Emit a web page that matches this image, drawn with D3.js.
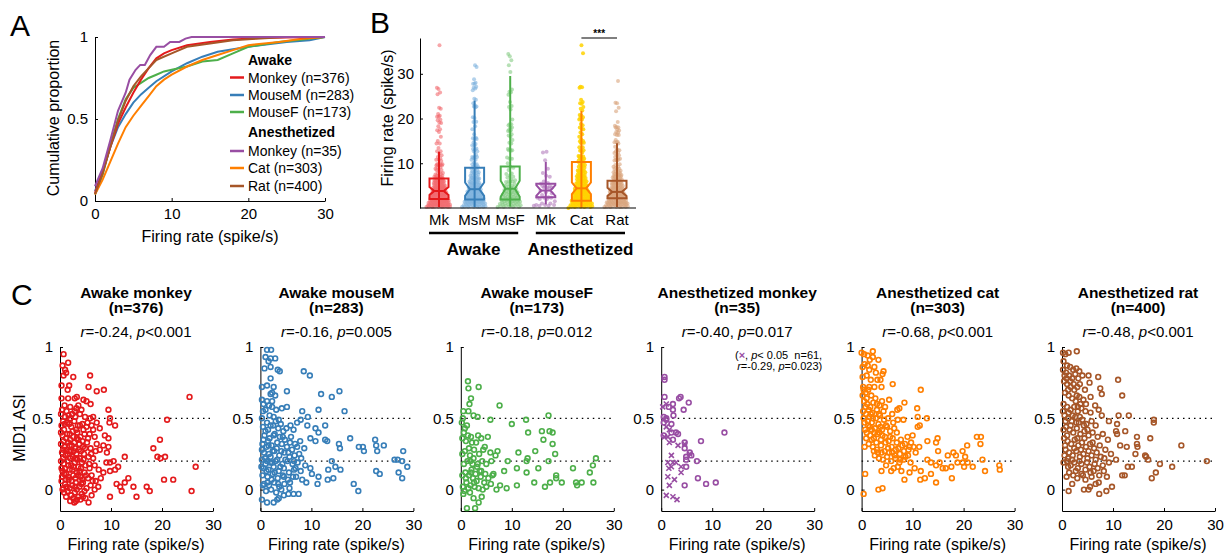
<!DOCTYPE html>
<html><head><meta charset="utf-8">
<script src="https://cdn.jsdelivr.net/npm/d3@7"></script>
<style>body{margin:0;background:#fff} svg text{font-family:"Liberation Sans",Arial,Helvetica,sans-serif}</style>
</head><body><svg id="c" width="1227" height="558"></svg>
<script>
// ================= DATA =================
// Panel A: empirical CDFs [rate, cumulative proportion]
const cdfAwakeMonkey = [[0,0.05],[1,0.18],[2,0.33],[3,0.47],[4,0.57],[5,0.66],[6,0.74],[7,0.81],[8,0.87],[9,0.9],[10,0.92],[12,0.95],[15,0.97],[18,0.985],[22,0.995],[30,1]];
const cdfAwakeMouseM = [[0,0.06],[1,0.18],[2,0.33],[3,0.45],[4,0.53],[5,0.6],[6,0.65],[7,0.69],[8,0.73],[10,0.79],[12,0.84],[14,0.88],[16,0.91],[20,0.94],[25,0.97],[28,0.98],[30,1]];
const cdfAwakeMouseF = [[0,0.04],[1,0.16],[2,0.34],[3,0.5],[4,0.62],[5,0.69],[6,0.72],[7,0.75],[8,0.77],[9,0.79],[10,0.8],[12,0.82],[14,0.85],[16,0.86],[18,0.9],[20,0.94],[24,0.97],[28,0.99],[30,1]];
const cdfAnesMonkey = [[0,0.09],[1,0.2],[2,0.37],[3,0.55],[4,0.66],[4.5,0.74],[5.3,0.8],[5.9,0.83],[6.5,0.83],[7.2,0.89],[8,0.94],[9,0.94],[9.8,0.97],[11,0.97],[11.8,0.99],[12.6,1],[30,1]];
const cdfAnesCat = [[0,0.04],[1,0.13],[2,0.24],[3,0.35],[4,0.45],[5,0.52],[6,0.58],[7,0.64],[8,0.7],[9,0.74],[10,0.77],[12,0.82],[14,0.86],[16,0.89],[18,0.92],[20,0.95],[24,0.97],[27,0.99],[30,1]];
const cdfAnesRat = [[0,0.04],[1,0.17],[2,0.33],[3,0.49],[4,0.61],[5,0.7],[6,0.76],[7,0.81],[8,0.86],[10,0.9],[12,0.94],[15,0.96],[18,0.98],[21,0.99],[25,1],[30,1]];
const legendAwake = ["Monkey (n=376)","MouseM (n=283)","MouseF (n=173)"];
const legendAnes = ["Monkey (n=35)","Cat (n=303)","Rat (n=400)"];
const axisTicksRate = [0,10,20,30];
const axisTicksProp = [0,0.5,1];

// Panel B: box statistics (spike/s)
const bCategories = ["Mk","MsM","MsF","Mk","Cat","Rat"];
const bQ1 = [2.0,1.9,1.9,2.4,1.6,2.2];
const bMedian = [3.8,4.2,4.3,3.9,4.4,3.6];
const bQ3 = [6.6,9.0,9.3,5.4,10.3,6.1];
const bNotch = [0.9,1.5,1.8,1.2,1.3,0.9];
const bWhiskerLo = [0.2,0.2,0.3,0.8,0.1,0.2];
const bWhiskerHi = [12.6,24.0,29.5,10.3,21.7,14.5];
const bExtraHigh = [[36.4,26.9,22.4,20.4,19.0,17.4,15.9,14.4],[31.9,31.5,26.7,24.4],[34.4,33.9,33.0,31.9,30.4],[12.6],[36.4,34.6,26.9,22.2],[23.5,22.4,18.1,17.0,16.3,15.2]];
const bTicks = [10,20,30];
const bGroupLabels = ["Awake","Anesthetized"];

// Panel C: [firing rate, MID1 ASI]
const awakeMonkeyPts = [[0.7,0.95],[1.6,0.89],[0.5,0.87],[1.0,0.84],[0.7,0.80],[1.2,0.82],[2.6,0.79],[1.8,0.73],[0.3,0.73],[1.5,0.70],[5.9,0.80],[5.6,0.72],[7.2,0.69],[8.6,0.70],
[0.3,0.64],[1.6,0.64],[2.9,0.64],[3.3,0.65],[4.6,0.63],[5.2,0.62],[6.0,0.60],[0.9,0.59],[2.0,0.58],[3.2,0.57],[4.2,0.56],
[0.2,0.53],[1.0,0.51],[2.0,0.50],[3.9,0.53],[4.9,0.51],[5.9,0.50],[6.5,0.51],[9.5,0.56],[9.8,0.50],[10.8,0.45],[9.7,0.47],[7.2,0.47],
[7.8,0.43],[6.5,0.42],[8.8,0.38],[9.5,0.36],[8.5,0.31],[7.2,0.32],[7.8,0.28],[9.5,0.30],[9.2,0.26],
[12.7,0.23],[10.5,0.20],[9.8,0.19],[9.1,0.19],[11.4,0.16],[10.8,0.14],[9.8,0.13],[8.5,0.12],
[13.4,0.08],[12.7,0.05],[11.8,0.02],[11.1,0.04],[12.1,-0.01],[14.4,0.02],[15.0,-0.05],[9.8,-0.05],[17.0,0.02],[17.6,-0.01],
[18.3,0.29],[19.6,0.35],[19.1,0.23],[19.7,0.22],[20.6,0.23],[20.4,0.07],[22.2,0.07],[21.0,0.49],[25.4,0.65],[25.8,-0.01],[26.6,0.16],
[5.6,-0.09],[3.1,-0.08],
[0.3,0.45],[0.8,0.42],[1.4,0.47],[2.2,0.44],[2.8,0.48],[3.5,0.45],[4.4,0.46],[5.2,0.44],[6.2,0.45],[0.5,0.38],[1.2,0.36],[1.9,0.39],[2.6,0.37],[3.4,0.40],[4.0,0.37],[4.8,0.39],[5.5,0.36],[6.8,0.37],
[0.2,0.32],[0.9,0.30],[1.6,0.33],[2.3,0.31],[3.0,0.29],[3.8,0.32],[4.5,0.30],[5.3,0.33],[6.0,0.29],[7.0,0.27],
[0.4,0.26],[1.1,0.24],[1.8,0.27],[2.5,0.23],[3.2,0.25],[3.9,0.22],[4.7,0.25],[5.6,0.23],[6.5,0.22],
[0.2,0.20],[0.8,0.18],[1.5,0.20],[2.2,0.17],[2.9,0.19],[3.6,0.16],[4.3,0.19],[5.0,0.17],[5.8,0.15],[6.8,0.17],[7.6,0.14],
[0.5,0.13],[1.2,0.11],[1.9,0.14],[2.6,0.10],[3.3,0.12],[4.0,0.09],[4.8,0.12],[5.5,0.08],[6.2,0.10],[7.0,0.06],[8.0,0.08],
[0.3,0.06],[1.0,0.04],[1.7,0.07],[2.4,0.03],[3.1,0.05],[3.8,0.02],[4.5,0.05],[5.2,0.01],[6.0,0.03],[6.8,0.00],[7.5,0.02],
[0.8,-0.02],[1.5,-0.01],[2.2,-0.04],[2.9,-0.02],[3.6,-0.05],[4.3,-0.03],[5.0,-0.06],[6.2,-0.04],[3.3,-0.07],[2.6,-0.06],
[0.4,0.56],[1.3,0.55],[2.4,0.53],[3.0,0.51],[0.6,0.48],[1.8,0.46],[3.2,0.42],[4.6,0.42],[0.7,0.34],[2.0,0.35],[3.6,0.35],[1.3,0.28],[2.7,0.27],[4.1,0.27],[0.6,0.22],[2.0,0.22],[3.4,0.21],[1.0,0.15],[2.4,0.14],[3.8,0.13],[0.4,0.09],[1.6,0.09],[3.0,0.08],[4.4,0.07],[0.6,0.01],[1.9,0.01],[3.3,0.00],[4.8,-0.01],[1.2,-0.05],[4.0,-0.07],
[0.2,0.40],[0.6,0.28],[0.9,0.46],[1.1,0.07],[1.4,0.39],[1.6,0.17],[1.7,0.52],[2.1,0.27],[2.3,0.06],[2.5,0.41],[2.7,0.16],[2.8,0.33],[3.0,0.02],[3.1,0.22],[3.3,0.36],[3.5,0.10],[3.7,0.28],[3.9,0.45],[4.1,0.15],[4.2,0.04],[4.4,0.34],[4.6,0.21],[4.9,0.29],[5.1,0.10],[5.4,0.47],[5.7,0.18],[6.1,0.25],[6.4,0.06],[0.3,0.15],[0.5,0.00],[1.3,0.02],[1.9,0.31],[2.9,0.55],[3.6,0.59],[0.8,0.11],[1.5,0.25],[2.0,-0.08],[2.8,-0.09],[4.5,-0.05],[5.8,0.39]];

const awakeMouseMPts = [[1.3,0.98],[2.1,0.98],[1.0,0.93],[2.0,0.92],[1.6,0.90],[2.9,0.92],[2.0,0.86],[0.8,0.85],[3.4,0.84],[3.8,0.83],[2.0,0.78],[1.3,0.73],[0.3,0.72],[2.6,0.72],[2.9,0.66],[2.0,0.67],[0.3,0.63],[1.3,0.62],[2.3,0.62],[1.0,0.56],[2.3,0.58],[2.6,0.51],[0.3,0.50],[1.3,0.47],
[4.2,0.57],[5.2,0.58],[5.2,0.69],[8.5,0.83],[9.7,0.80],[11.9,0.67],[14.0,0.65],[15.5,0.69],[11.4,0.56],[16.5,0.55],[8.2,0.55],[9.3,0.51],[7.9,0.49],[5.9,0.45],[7.2,0.47],[9.2,0.45],[12.7,0.45],[10.8,0.43],[6.5,0.42],
[11.4,0.40],[9.8,0.36],[10.8,0.34],[12.7,0.35],[13.1,0.34],[15.4,0.32],[15.6,0.29],[17.6,0.36],[19.3,0.30],[20.1,0.30],[20.3,0.27],[22.5,0.35],[22.7,0.31],[24.2,0.31],[22.9,0.27],[28.0,0.27],
[26.3,0.21],[26.9,0.21],[27.8,0.20],[28.8,0.16],[27.1,0.12],[27.8,0.08],[22.7,0.13],[23.4,0.11],[18.3,0.04],[19.2,-0.01],[14.0,0.20],[14.7,0.16],[13.3,0.14],[15.7,0.14],[14.3,0.08],[13.2,0.07],[11.4,0.09],[11.2,0.04],[9.8,0.15],[10.1,0.11],[9.0,0.05],[7.9,0.13],[6.9,0.15],
[5.5,-0.03],[4.6,-0.04],[3.6,-0.06],[3.3,-0.07],[2.6,-0.09],[1.3,-0.09],[0.3,-0.07],[7.5,-0.03],[6.5,-0.03],
[0.5,0.44],[1.5,0.42],[2.5,0.45],[3.5,0.43],[4.5,0.41],[0.8,0.38],[1.8,0.36],[2.8,0.39],[3.8,0.37],[4.8,0.35],[5.8,0.33],[6.8,0.32],[7.8,0.34],[0.4,0.32],[1.2,0.30],[2.2,0.31],[3.2,0.29],[4.2,0.32],[5.2,0.30],[6.2,0.28],[7.2,0.30],[8.6,0.29],[0.7,0.26],[1.7,0.25],[2.7,0.27],[3.7,0.24],[4.7,0.26],[5.7,0.23],[6.7,0.24],[8.0,0.22],[0.3,0.21],[1.3,0.20],[2.3,0.19],[3.3,0.21],[4.3,0.18],[5.3,0.20],[6.3,0.18],[7.3,0.19],[8.8,0.17],[0.6,0.15],[1.6,0.14],[2.6,0.16],[3.6,0.13],[4.6,0.15],[5.6,0.12],[6.6,0.14],[0.4,0.10],[1.4,0.09],[2.4,0.11],[3.4,0.08],[4.4,0.10],[5.4,0.07],[6.4,0.09],[0.7,0.04],[1.7,0.03],[2.7,0.05],[3.7,0.02],[4.7,0.04],[5.7,0.01],[1.1,-0.01],[2.1,0.00],[3.1,-0.02],[4.1,0.00],[0.5,0.55],[1.8,0.52],[3.0,0.48],[4.0,0.46],[1.0,0.18],[2.0,0.23],[1.5,0.34],
[0.3,0.28],[0.6,0.35],[0.9,0.22],[1.0,0.41],[1.2,0.13],[1.4,0.05],[1.6,0.31],[1.9,0.19],[2.0,0.45],[2.2,0.07],[2.4,0.27],[2.6,0.38],[2.8,0.12],[3.0,0.20],[3.3,0.33],[3.5,0.04],[3.6,0.49],[3.9,0.16],[4.1,0.27],[4.4,0.37],[4.6,0.09],[4.9,0.21],[5.1,0.43],[5.5,0.26],[5.8,0.05],[6.0,0.37],[6.6,0.20],[7.0,0.09],[7.6,0.25],[8.2,0.07],[0.2,0.16],[0.5,0.03],[1.7,0.59],[2.3,0.68],[0.6,0.60],[3.1,0.56]];

const awakeMouseFPts = [[1.4,0.76],[1.5,0.71],[3.5,0.72],[2.0,0.64],[1.7,0.60],[0.5,0.55],[1.5,0.55],[2.5,0.52],[3.3,0.51],[0.4,0.50],[0.2,0.47],[1.2,0.45],[5.8,0.49],[7.6,0.59],[0.6,0.40],[1.4,0.38],[0.3,0.36],[1.0,0.34],[2.0,0.37],
[10.0,0.46],[12.8,0.49],[17.2,0.52],[13.2,0.40],[15.9,0.41],[17.4,0.41],[18.0,0.40],[16.2,0.35],[14.6,0.27],[18.0,0.32],[18.5,0.25],[11.3,0.26],[9.2,0.20],[12.9,0.20],[13.1,0.22],[17.2,0.20],[22.0,0.15],[25.9,0.17],[26.5,0.22],[25.3,0.12],
[8.5,0.13],[11.0,0.15],[12.9,0.12],[15.2,0.15],[18.7,0.10],[18.7,0.08],[19.8,0.05],[17.5,0.05],[16.5,0.02],[14.4,0.05],[11.0,0.03],[9.0,0.01],[7.7,0.03],[7.0,0.00],[22.6,0.05],[23.7,0.05],[22.8,0.03],[26.0,0.05],
[1.8,-0.02],[2.5,-0.06],[1.2,-0.13],[2.8,-0.13],[3.5,-0.09],[4.1,-0.05],[0.5,-0.03],
[3.0,0.33],[4.0,0.36],[4.7,0.30],[5.3,0.37],[2.6,0.28],[3.6,0.25],[1.8,0.24],[0.8,0.27],[1.3,0.20],[2.3,0.18],[3.2,0.16],[4.2,0.20],[5.0,0.18],[6.0,0.20],[6.8,0.24],[7.2,0.27],[0.6,0.18],[0.9,0.12],[1.6,0.10],[2.4,0.08],[3.1,0.06],[3.9,0.09],[4.6,0.05],[5.4,0.08],[6.2,0.10],[6.4,0.11],[1.1,0.05],[1.9,0.03],[2.7,0.02],[3.5,0.01],[4.3,0.00],[5.0,0.02],[5.9,0.04],[0.4,0.02],[2.1,0.14],[2.9,0.11],[3.7,0.13],[0.3,0.25],[4.4,0.28],[5.8,0.26],
[0.8,0.43],[1.6,0.29],[2.2,0.33],[2.5,0.22],[3.4,0.38],[1.0,0.08],[1.5,0.01],[2.0,0.12],[2.6,0.05],[3.3,0.18],[4.0,0.13],[4.8,0.11],[0.3,0.10],[0.7,-0.01],[1.9,0.20]];

const anesMonkeyPts = [[0.65,0.79],[0.65,0.77],[0.65,0.65],[3.5,0.64],[3.8,0.65],[5.4,0.61],[2.3,0.60],[2.3,0.56],[4.4,0.56],[2.4,0.52],[0.5,0.51],[1.0,0.49],[0.5,0.47],[2.0,0.46],[0.5,0.38],[2.0,0.40],[2.9,0.40],[2.3,0.35],[4.6,0.33],[4.6,0.29],[7.8,0.34],[12.4,0.40],[5.6,0.26],[4.9,0.23],[5.9,0.24],[7.0,0.20],[4.9,0.21],[4.9,0.16],[7.2,0.08],[4.6,0.03],[8.8,0.04],[10.7,0.05],[1.5,0.58],[3.3,0.39],[1.0,0.50]];
const anesMonkeyCross = [[0.3,0.58],[1.0,0.60],[1.0,0.44],[1.6,0.42],[1.3,0.37],[1.6,0.33],[3.3,0.31],[4.6,0.32],[2.0,0.24],[1.3,0.19],[2.3,0.19],[2.9,0.19],[1.5,0.15],[2.0,0.16],[3.9,0.16],[3.9,0.12],[1.3,0.09],[2.6,0.07],[1.6,0.03],[1.0,-0.04],[2.3,-0.05],[3.1,-0.07],[0.65,0.37],[5.6,0.25]];

const anesCatPts = [[0.0,0.96],[0.5,0.95],[1.2,0.94],[2.2,0.97],[2.2,0.93],[3.3,0.91],[2.5,0.86],[0.2,0.86],[1.2,0.87],[1.5,0.84],[4.3,0.83],[4.1,0.81],[0.2,0.79],[1.8,0.77],[3.1,0.77],[3.7,0.77],[6.1,0.74],[3.9,0.72],[2.5,0.72],
[11.6,0.70],[8.4,0.61],[5.4,0.63],[3.5,0.59],[3.0,0.56],[7.4,0.57],[7.0,0.56],[10.9,0.57],[11.0,0.51],[12.8,0.50],[11.0,0.44],[11.4,0.45],[8.2,0.49],[7.1,0.49],[6.0,0.53],
[9.0,0.37],[9.7,0.33],[9.4,0.30],[11.3,0.30],[10.0,0.38],[12.9,0.34],[14.6,0.33],[14.9,0.36],[15.0,0.27],[16.9,0.24],[18.0,0.26],[18.5,0.24],[19.8,0.27],[20.7,0.31],[22.6,0.37],[23.4,0.37],[23.3,0.32],
[12.9,0.21],[13.6,0.19],[14.6,0.17],[15.3,0.19],[15.9,0.15],[16.5,0.15],[17.6,0.16],[18.8,0.19],[19.8,0.19],[20.3,0.23],[20.8,0.19],[21.8,0.16],[23.7,0.21],[24.2,0.13],[27.0,0.17],[27.1,0.14],[20.1,0.16],
[11.6,0.13],[11.5,0.07],[12.4,0.08],[13.6,0.11],[14.6,0.05],[17.7,0.08],[8.4,0.07],[10.4,0.15],[9.4,0.12],[7.1,0.16],[5.8,0.13],[3.9,0.13],[0.7,0.11],[3.3,0.00],[4.1,0.01],[0.4,-0.03],
[0.3,0.72],[0.8,0.68],[1.3,0.70],[1.9,0.66],[2.7,0.64],[0.5,0.62],[1.1,0.60],[1.7,0.58],[2.3,0.61],[4.0,0.62],[4.6,0.58],[0.3,0.55],[0.9,0.53],[1.5,0.51],[2.1,0.54],[2.8,0.50],[3.6,0.52],[4.4,0.49],[5.2,0.50],[0.6,0.47],[1.3,0.45],[2.0,0.47],[2.6,0.43],[3.3,0.46],[4.0,0.42],[4.8,0.45],[5.6,0.41],[6.4,0.43],[1.0,0.40],[1.7,0.38],[2.4,0.36],[3.1,0.39],[3.8,0.35],[4.6,0.37],[5.3,0.34],[6.1,0.36],[6.9,0.33],[7.7,0.35],[8.5,0.32],[1.4,0.32],[2.2,0.30],[3.0,0.28],[3.8,0.31],[4.5,0.27],[5.2,0.29],[6.0,0.26],[6.7,0.28],[7.5,0.25],[8.3,0.27],[9.1,0.24],[2.6,0.24],[3.4,0.22],[4.2,0.21],[5.0,0.23],[5.8,0.20],[6.6,0.22],[7.4,0.19],[8.2,0.21],[9.6,0.19],[4.8,0.17],[6.3,0.15],[7.8,0.13],[0.6,0.30],[0.9,0.36],[2.0,0.42],[3.5,0.40],[10.2,0.30],[10.6,0.26],
[0.2,0.66],[0.4,0.50],[0.7,0.42],[0.8,0.58],[1.0,0.64],[1.2,0.48],[1.4,0.56],[1.6,0.44],[1.8,0.53],[2.0,0.35],[2.2,0.50],[2.4,0.27],[2.5,0.40],[2.9,0.33],[3.0,0.60],[3.2,0.26],[3.4,0.53],[3.7,0.44],[3.9,0.26],[4.1,0.38],[4.3,0.55],[4.7,0.33],[5.0,0.44],[5.4,0.26],[5.6,0.37],[5.9,0.30],[6.2,0.47],[6.5,0.24],[6.9,0.40],[7.2,0.29],[7.6,0.21],[8.0,0.31],[8.6,0.23],[9.2,0.28],[1.0,0.80],[0.6,0.88],[1.6,0.91],[2.8,0.82],[0.4,0.70],[1.5,0.72]];

const anesRatPts = [[0.2,0.96],[0.65,0.95],[1.3,0.96],[2.9,0.97],[1.0,0.87],[1.6,0.86],[2.2,0.84],[2.8,0.85],[3.4,0.83],[5.2,0.80],[7.1,0.79],[11.0,0.77],[7.5,0.71],[5.4,0.75],[3.5,0.74],[5.6,0.65],[11.8,0.66],[7.8,0.67],
[6.5,0.59],[7.2,0.56],[7.8,0.52],[5.6,0.54],[9.2,0.48],[11.1,0.52],[13.1,0.52],[18.0,0.49],[18.0,0.47],[10.8,0.46],[10.6,0.41],[12.4,0.41],[10.8,0.39],
[14.7,0.37],[14.7,0.32],[14.8,0.30],[17.3,0.36],[23.4,0.31],[11.4,0.31],[12.7,0.30],[14.4,0.25],[16.3,0.24],[16.5,0.23],[16.9,0.21],[19.2,0.18],[21.6,0.16],[28.4,0.20],
[12.9,0.16],[13.7,0.16],[11.8,0.10],[12.3,0.10],[8.2,0.13],[8.8,0.09],[9.8,0.02],[8.7,-0.01],[7.3,-0.03],[7.2,0.05],[5.2,0.00],[5.5,0.02],[4.3,0.00],[1.3,-0.01],[17.6,0.08],[18.4,0.12],
[0.3,0.90],[0.8,0.82],[1.4,0.80],[2.0,0.78],[2.6,0.81],[3.2,0.78],[4.0,0.80],[0.4,0.76],[1.0,0.74],[1.7,0.72],[2.4,0.70],[3.0,0.72],[4.5,0.70],[0.6,0.68],[1.3,0.66],[2.0,0.64],[2.7,0.62],[3.4,0.65],[4.2,0.63],[0.3,0.60],[1.0,0.58],[1.7,0.56],[2.4,0.58],[3.1,0.55],[3.8,0.57],[4.6,0.55],[0.5,0.52],[1.2,0.50],[1.9,0.48],[2.6,0.51],[3.3,0.47],[4.0,0.49],[4.8,0.46],[5.8,0.48],[6.6,0.45],[0.8,0.44],[1.5,0.42],[2.2,0.40],[2.9,0.43],[3.6,0.39],[4.4,0.41],[5.2,0.38],[6.0,0.40],[7.0,0.37],[8.0,0.39],[9.0,0.35],[0.4,0.36],[1.1,0.34],[1.8,0.32],[2.5,0.35],[3.2,0.31],[3.9,0.33],[4.7,0.30],[5.5,0.32],[6.3,0.29],[7.4,0.31],[8.5,0.28],[0.7,0.28],[1.4,0.26],[2.1,0.24],[2.8,0.27],[3.5,0.23],[4.2,0.25],[5.0,0.22],[5.8,0.24],[6.6,0.21],[7.6,0.23],[9.6,0.25],[10.6,0.21],[0.3,0.19],[1.0,0.20],[1.7,0.17],[2.4,0.19],[3.1,0.15],[3.8,0.18],[4.6,0.14],[5.4,0.16],[6.2,0.13],[7.0,0.15],[8.0,0.17],[9.2,0.19],[1.4,0.12],[2.2,0.10],[3.0,0.08],[3.8,0.11],[4.6,0.07],[5.8,0.09],[6.6,0.04],[2.0,0.04],[1.2,0.22],[0.9,0.09],
[0.2,0.84],[0.5,0.80],[0.9,0.78],[1.2,0.70],[1.6,0.76],[2.3,0.74],[2.9,0.66],[3.6,0.60],[0.2,0.55],[0.7,0.48],[1.3,0.54],[2.1,0.52],[2.8,0.47],[3.5,0.51],[4.3,0.45],[5.0,0.42],[0.3,0.42],[1.0,0.38],[1.7,0.45],[2.4,0.29],[3.0,0.36],[3.7,0.28],[4.4,0.36],[5.2,0.27],[6.0,0.33],[6.8,0.26],[0.5,0.24],[1.2,0.16],[2.0,0.21],[2.7,0.13],[3.4,0.20],[4.1,0.10],[4.9,0.19],[5.6,0.12],[6.4,0.18],[7.3,0.10],[8.3,0.22],[0.6,0.31],[3.1,0.58],[4.7,0.60]];

const cTitles = ["Awake monkey","Awake mouseM","Awake mouseF","Anesthetized monkey","Anesthetized cat","Anesthetized rat"];
const cCounts = ["(n=376)","(n=283)","(n=173)","(n=35)","(n=303)","(n=400)"];
const cR = ["=-0.24, ","=-0.16, ","=-0.18, ","=-0.40, ","=-0.68, ","=-0.48, "];
const cP = ["<0.001","=0.005","=0.012","=0.017","<0.001","<0.001"];
const cRefLines = [0.5,0.2];

// ================= STYLE =================
const colors = ["#e41a1c","#377eb8","#4daf4a","#984ea3","#ff7f00","#a65628"];
const dotColors = ["#f26a70","#7fb2dd","#86cc83","#b27bbc","#ffd200","#d9a47c"];
const FONT = '"Liberation Sans", Arial, Helvetica, sans-serif';
const svg = d3.select("#c");

function styleAxis(g, fs){
  g.select(".domain").attr("stroke","#000").attr("stroke-width",1);
  g.selectAll(".tick line").attr("stroke","#000");
  g.selectAll(".tick text").attr("font-size",fs).attr("font-family",FONT).attr("fill","#000");
}
const fmtNum = d => (d===0.5 ? "0.5" : String(d));

// ================= PANEL A =================
const xA = d3.scaleLinear().domain([0,30]).range([95,325]);
const yA = d3.scaleLinear().domain([0,1]).range([201,37]);
svg.append("g").attr("transform","translate(0,201)")
  .call(d3.axisBottom(xA).tickValues(axisTicksRate).tickSizeInner(-3).tickSizeOuter(0).tickPadding(7).tickFormat(fmtNum)).call(styleAxis,15);
svg.append("g").attr("transform","translate(95,0)")
  .call(d3.axisLeft(yA).tickValues(axisTicksProp).tickSizeInner(-3).tickSizeOuter(0).tickPadding(7).tickFormat(fmtNum)).call(styleAxis,15);
const lineA = d3.line().x(d=>xA(d[0])).y(d=>yA(d[1]));
const cdfs = [cdfAwakeMonkey,cdfAwakeMouseM,cdfAwakeMouseF,cdfAnesMonkey,cdfAnesCat,cdfAnesRat];
[1,2,4,0,5,3].forEach(i=>{
  svg.append("path").attr("d",lineA(cdfs[i])).attr("fill","none").attr("stroke",colors[i]).attr("stroke-width",2);
});
svg.append("text").attr("x",10).attr("y",36).attr("font-size",30).text("A");
svg.append("text").attr("transform","translate(59,118) rotate(-90)").attr("text-anchor","middle").attr("font-size",16).text("Cumulative proportion");
svg.append("text").attr("x",210).attr("y",242).attr("text-anchor","middle").attr("font-size",16).text("Firing rate (spike/s)");
// legend
const legRowsY = [77.5,95,112,151,168,186];
svg.append("text").attr("x",248).attr("y",65).attr("font-size",14).attr("font-weight","bold").text("Awake");
svg.append("text").attr("x",248).attr("y",137).attr("font-size",14).attr("font-weight","bold").text("Anesthetized");
legendAwake.concat(legendAnes).forEach((lab,i)=>{
  svg.append("line").attr("x1",230).attr("x2",244).attr("y1",legRowsY[i]).attr("y2",legRowsY[i]).attr("stroke",colors[i]).attr("stroke-width",2.5);
  svg.append("text").attr("x",248).attr("y",legRowsY[i]+5).attr("font-size",14).text(lab);
});

// ================= PANEL B =================
const xB = d3.scalePoint().domain(d3.range(bCategories.length)).range([439,617]);
const yB = d3.scaleLinear().domain([0,38]).range([208,38]);
const cPts = [awakeMonkeyPts,awakeMouseMPts,awakeMouseFPts,anesMonkeyPts,anesCatPts,anesRatPts];
svg.append("text").attr("x",370).attr("y",33).attr("font-size",30).text("B");
svg.append("text").attr("transform","translate(393,118) rotate(-90)").attr("text-anchor","middle").attr("font-size",16).text("Firing rate (spike/s)");
const boxW = 19;
bCategories.forEach((cat,i)=>{
  const cx = xB(i);
  const rates = cPts[i].map(d=>d[0]).concat(bExtraHigh[i]).sort((a,b)=>a-b);
  const g = svg.append("g");
  g.selectAll("circle").data(rates).join("circle")
    .attr("cx",(v,k)=>{ const f=((k*0.6180339887)%1)-0.5; const hw=2+11*Math.exp(-v/5); return cx + f*2*hw; })
    .attr("cy",v=>yB(v)).attr("r",2).attr("fill",dotColors[i]).attr("fill-opacity",i===4?0.85:0.6);
  g.append("line").attr("x1",cx).attr("x2",cx).attr("y1",yB(bWhiskerLo[i])).attr("y2",yB(bWhiskerHi[i])).attr("stroke",colors[i]).attr("stroke-width",2);
  const q1=bQ1[i], q3=bQ3[i], m=bMedian[i], n=bNotch[i];
  const pts = [[cx-boxW/2,yB(q3)],[cx+boxW/2,yB(q3)],[cx+boxW/2,yB(m+n)],[cx+boxW/4,yB(m)],[cx+boxW/2,yB(m-n)],[cx+boxW/2,yB(q1)],
               [cx-boxW/2,yB(q1)],[cx-boxW/2,yB(m-n)],[cx-boxW/4,yB(m)],[cx-boxW/2,yB(m+n)]];
  g.append("path").attr("d","M"+pts.map(p=>p.join(",")).join("L")+"Z").attr("fill","none").attr("stroke",colors[i]).attr("stroke-width",2);
  g.append("line").attr("x1",cx-boxW/4).attr("x2",cx+boxW/4).attr("y1",yB(m)).attr("y2",yB(m)).attr("stroke",colors[i]).attr("stroke-width",2);
  svg.append("text").attr("x",cx).attr("y",225).attr("text-anchor","middle").attr("font-size",15).text(cat);
});
svg.append("g").attr("transform","translate(420,0)")
  .call(d3.axisLeft(yB).tickValues(bTicks).tickSizeInner(-3).tickSizeOuter(0).tickPadding(6)).call(styleAxis,15);
svg.append("line").attr("x1",420).attr("x2",636).attr("y1",208).attr("y2",208).attr("stroke","#000");
[[0,2],[3,5]].forEach((r,j)=>{
  const x1 = xB(r[0])-10, x2 = xB(r[1])+8;
  svg.append("line").attr("x1",x1).attr("x2",x2).attr("y1",233).attr("y2",233).attr("stroke","#000").attr("stroke-width",2.5);
  svg.append("text").attr("x",(x1+x2)/2).attr("y",255).attr("text-anchor","middle").attr("font-size",17).attr("font-weight","bold").text(bGroupLabels[j]);
});
svg.append("line").attr("x1",xB(4)).attr("x2",xB(5)).attr("y1",yB(38)).attr("y2",yB(38)).attr("stroke","#000").attr("stroke-width",1.2);
svg.append("text").attr("x",(xB(4)+xB(5))/2).attr("y",yB(38)-1).attr("text-anchor","middle").attr("font-size",10).attr("font-weight","bold").text("***");

// ================= PANEL C =================
svg.append("text").attr("x",11).attr("y",305).attr("font-size",30).text("C");
svg.append("text").attr("transform","translate(25,428) rotate(-90)").attr("text-anchor","middle").attr("font-size",16).text("MID1 ASI");
const yC = d3.scaleLinear().domain([-0.15,1]).range([511,347]);
cTitles.forEach((title,i)=>{
  const x0 = 60 + i*200.4;
  const xC = d3.scaleLinear().domain([0,30]).range([x0,x0+153]);
  const g = svg.append("g");
  const cxT = x0 + 76;
  g.append("text").attr("x",cxT).attr("y",298).attr("text-anchor","middle").attr("font-size",15.5).attr("font-weight","bold").text(title);
  g.append("text").attr("x",cxT).attr("y",313).attr("text-anchor","middle").attr("font-size",15.5).attr("font-weight","bold").text(cCounts[i]);
  const t = g.append("text").attr("x",cxT).attr("y",337).attr("text-anchor","middle").attr("font-size",15);
  t.append("tspan").attr("font-style","italic").text("r");
  t.append("tspan").text(cR[i]);
  t.append("tspan").attr("font-style","italic").text("p");
  t.append("tspan").text(cP[i]);
  cRefLines.forEach(v=>{
    g.append("line").attr("x1",xC(0)).attr("x2",xC(30)).attr("y1",yC(v)).attr("y2",yC(v)).attr("stroke","#000").attr("stroke-width",1.2).attr("stroke-dasharray","1.5,4");
  });
  g.append("g").attr("transform",`translate(0,511)`)
    .call(d3.axisBottom(xC).tickValues(axisTicksRate).tickSizeInner(-3).tickSizeOuter(0).tickPadding(8)).call(styleAxis,15);
  g.append("g").attr("transform",`translate(${x0},0)`)
    .call(d3.axisLeft(yC).tickValues(axisTicksProp).tickSizeInner(-3).tickSizeOuter(0).tickPadding(7).tickFormat(fmtNum)).call(styleAxis,15);
  g.append("text").attr("x",cxT).attr("y",550).attr("text-anchor","middle").attr("font-size",16).text("Firing rate (spike/s)");
  g.append("g").selectAll("circle").data(cPts[i]).join("circle")
    .attr("cx",d=>xC(d[0])).attr("cy",d=>yC(d[1])).attr("r",2.4)
    .attr("fill","none").attr("stroke",colors[i]).attr("stroke-width",1.6);
  if(i===3){
    g.append("g").selectAll("path").data(anesMonkeyCross).join("path")
      .attr("transform",d=>`translate(${xC(d[0])},${yC(d[1])})`)
      .attr("d","M-2.5,-2.5L2.5,2.5M-2.5,2.5L2.5,-2.5").attr("stroke",colors[3]).attr("stroke-width",1.6).attr("fill","none");
    const nx = x0 + 161;
    const l1 = g.append("text").attr("x",nx).attr("y",359).attr("text-anchor","end").attr("font-size",11).style("white-space","pre");
    l1.append("tspan").text("(");
    l1.append("tspan").attr("fill",colors[3]).attr("font-weight","bold").text("×");
    l1.append("tspan").text(", ");
    l1.append("tspan").attr("font-style","italic").text("p");
    l1.append("tspan").text("< 0.05  n=61,");
    const l2 = g.append("text").attr("x",nx).attr("y",370).attr("text-anchor","end").attr("font-size",11);
    l2.append("tspan").attr("font-style","italic").text("r");
    l2.append("tspan").text("=-0.29, ");
    l2.append("tspan").attr("font-style","italic").text("p");
    l2.append("tspan").text("=0.023)");
  }
});
</script></body></html>
